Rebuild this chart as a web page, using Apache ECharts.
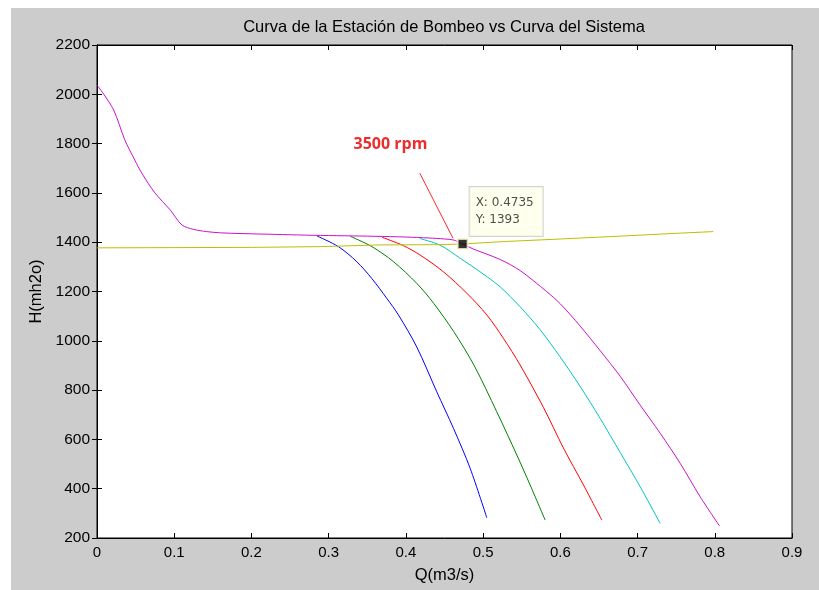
<!DOCTYPE html>
<html>
<head>
<meta charset="utf-8">
<script src="https://cdn.jsdelivr.net/npm/echarts@6/dist/echarts.min.js"></script>
<style>
  html, body { margin: 0; padding: 0; background: #fff; width: 819px; height: 590px; overflow: hidden; }
  #fig { position: absolute; left: 11px; top: 8px; width: 808px; height: 582px; background: #cccccc; }
</style>
</head>
<body>
<div id="fig"></div>
<script>
// Shared branch of the pump-station curves (Q in m3/s, H in m of water)
const headQ = [0, 0.021, 0.036, 0.049, 0.058, 0.075, 0.095, 0.11, 0.125, 0.142, 0.16, 0.2, 0.24, 0.28, 0.32, 0.36, 0.4, 0.43, 0.45];
const headH = [2038, 1940, 1815, 1733, 1680, 1600, 1530, 1470, 1452, 1443, 1438, 1434, 1431, 1428, 1426, 1424, 1421, 1417, 1413];

// Falling branch of each curve, by pump speed
const blueQ = [0.285, 0.3126, 0.3364, 0.3558, 0.3753, 0.3903, 0.4141, 0.44, 0.4616, 0.4832, 0.5048];
const blueH = [1425, 1382, 1321, 1253, 1172, 1105, 975, 793, 645, 483, 282];

const greenQ = [0.328, 0.356, 0.384, 0.4141, 0.436, 0.462, 0.488, 0.5177, 0.5436, 0.5609, 0.5803];
const greenH = [1424, 1382, 1321, 1233, 1152, 1037, 902, 712, 537, 415, 273];

const redQ = [0.369, 0.3968, 0.4184, 0.4486, 0.4789, 0.5048, 0.5263, 0.5479, 0.5781, 0.604, 0.63, 0.6537];
const redH = [1420, 1386, 1348, 1280, 1193, 1105, 1010, 902, 730, 565, 415, 273];

const cyanQ = [0.418, 0.4443, 0.4702, 0.4961, 0.522, 0.5479, 0.5738, 0.5997, 0.6256, 0.6516, 0.6775, 0.7034, 0.7293];
const cyanH = [1415, 1388, 1335, 1280, 1219, 1138, 1045, 935, 815, 685, 547, 408, 259];

const magentaQ = [0.4616, 0.4735, 0.4875, 0.522, 0.5479, 0.5825, 0.6, 0.6256, 0.6516, 0.6775, 0.7034, 0.7293, 0.7552, 0.7811, 0.8061];
const magentaH = [1409, 1393, 1372, 1330, 1285, 1199, 1150, 1060, 960, 856, 739, 625, 503, 367, 249];

// System curve
const systemQ = [0, 0.1, 0.2, 0.289, 0.367, 0.444, 0.4735, 0.53, 0.6, 0.68, 0.75, 0.798];
const systemH = [1377, 1378, 1379, 1382, 1389, 1390, 1393, 1403, 1413, 1425, 1436, 1443];

// Operating point and annotation
const opPoint = [0.4735, 1393];
const noteText = '3500 rpm';
const notePos = [0.38, 1798];
const pointerLine = [[0.418, 1680], [0.461, 1416]];

// Axes
const xRange = { min: 0, max: 0.9, step: 0.1 };
const yRange = { min: 200, max: 2200, step: 200 };

const pairs = (qs, hs) => qs.map((q, i) => [q, hs[i]]);
const withHead = (qs, hs) =>
  pairs(headQ, headH).filter(p => p[0] < qs[0]).concat(pairs(qs, hs));

const font = 'Liberation Sans, Arial, sans-serif';
const lineSeries = (name, data, color) => ({
  name, type: 'line', data, showSymbol: false, smooth: 0.3,
  lineStyle: { color, width: 1 }, itemStyle: { color }, silent: true
});

const baseAxis = {
  axisLine: { show: true, lineStyle: { color: '#000', width: 1 } },
  axisTick: { show: true, inside: true, length: 5, lineStyle: { color: '#000' } },
  splitLine: { show: false }
};

const chart = echarts.init(document.getElementById('fig'), null, { renderer: 'canvas' });
chart.setOption({
  animation: false,
  backgroundColor: 'transparent',
  title: {
    text: 'Curva de la Estación de Bombeo vs Curva del Sistema',
    left: 428, top: 6, textAlign: 'center',
    textStyle: { fontFamily: font, fontSize: 16.5, fontWeight: 'normal', color: '#000' }
  },
  grid: { left: 86, top: 37, width: 695, height: 493, show: true, backgroundColor: '#fff', borderColor: '#000', borderWidth: 1 },
  xAxis: [
    Object.assign({}, baseAxis, {
      type: 'value', min: xRange.min, max: xRange.max, interval: xRange.step, position: 'bottom',
      name: 'Q(m3/s)', nameLocation: 'middle', nameGap: 29,
      nameTextStyle: { fontFamily: font, fontSize: 16.5, color: '#000' },
      axisLabel: { fontFamily: font, fontSize: 15, color: '#000', margin: 7,
        formatter: v => (v === 0 ? '0' : v.toFixed(1)) }
    }),
    Object.assign({}, baseAxis, {
      type: 'value', min: xRange.min, max: xRange.max, interval: xRange.step, position: 'top',
      axisLabel: { show: false }
    })
  ],
  yAxis: [
    Object.assign({}, baseAxis, {
      type: 'value', min: yRange.min, max: yRange.max, interval: yRange.step, position: 'left',
      name: 'H(mh2o)', nameLocation: 'middle', nameGap: 49,
      nameTextStyle: { fontFamily: font, fontSize: 16.5, color: '#000' },
      axisLabel: { fontFamily: font, fontSize: 15.5, color: '#000', margin: 7, formatter: v => String(v) }
    }),
    Object.assign({}, baseAxis, {
      type: 'value', min: yRange.min, max: yRange.max, interval: yRange.step, position: 'right',
      axisLabel: { show: false }
    })
  ],
  series: [
    lineSeries('blue', pairs(blueQ, blueH), '#0000ff'),
    lineSeries('green', pairs(greenQ, greenH), '#008000'),
    lineSeries('red', pairs(redQ, redH), '#ff0000'),
    lineSeries('cyan', pairs(cyanQ, cyanH), '#00c4c4'),
    lineSeries('magenta', withHead(magentaQ, magentaH), '#cc11cc'),
    {
      name: 'system', type: 'line', data: pairs(systemQ, systemH), showSymbol: false,
      lineStyle: { color: '#bfbf00', width: 1 }, silent: true
    },
    {
      name: 'op', type: 'scatter', data: [opPoint], symbol: 'rect', symbolSize: 10, z: 10,
      itemStyle: { color: '#000', borderColor: '#fbf7d0', borderWidth: 2 },
      label: {
        show: true, position: [13, -51],
        formatter: p => 'X: ' + p.value[0] + '\nY: ' + p.value[1],
        fontFamily: 'DejaVu Sans, sans-serif', fontSize: 12, lineHeight: 17, color: '#222',
        backgroundColor: '#ffffe8', borderColor: '#c8c8c8', borderWidth: 1, padding: [7, 9, 8, 6]
      },
      markLine: {
        silent: true, symbol: ['none', 'none'], animation: false,
        lineStyle: { color: '#ff2a2a', width: 1, type: 'solid' }, label: { show: false },
        data: [[{ coord: pointerLine[0] }, { coord: pointerLine[1] }]]
      },
      markPoint: {
        silent: true, symbol: 'rect', symbolSize: 1, itemStyle: { color: 'rgba(0,0,0,0)' },
        label: { show: true, position: 'inside', formatter: noteText,
          fontFamily: 'Open Sans, sans-serif', fontWeight: 'bold', fontSize: 16, color: '#ee2c2c' },
        data: [{ coord: notePos }]
      }
    }
  ]
});
</script>
</body>
</html>
